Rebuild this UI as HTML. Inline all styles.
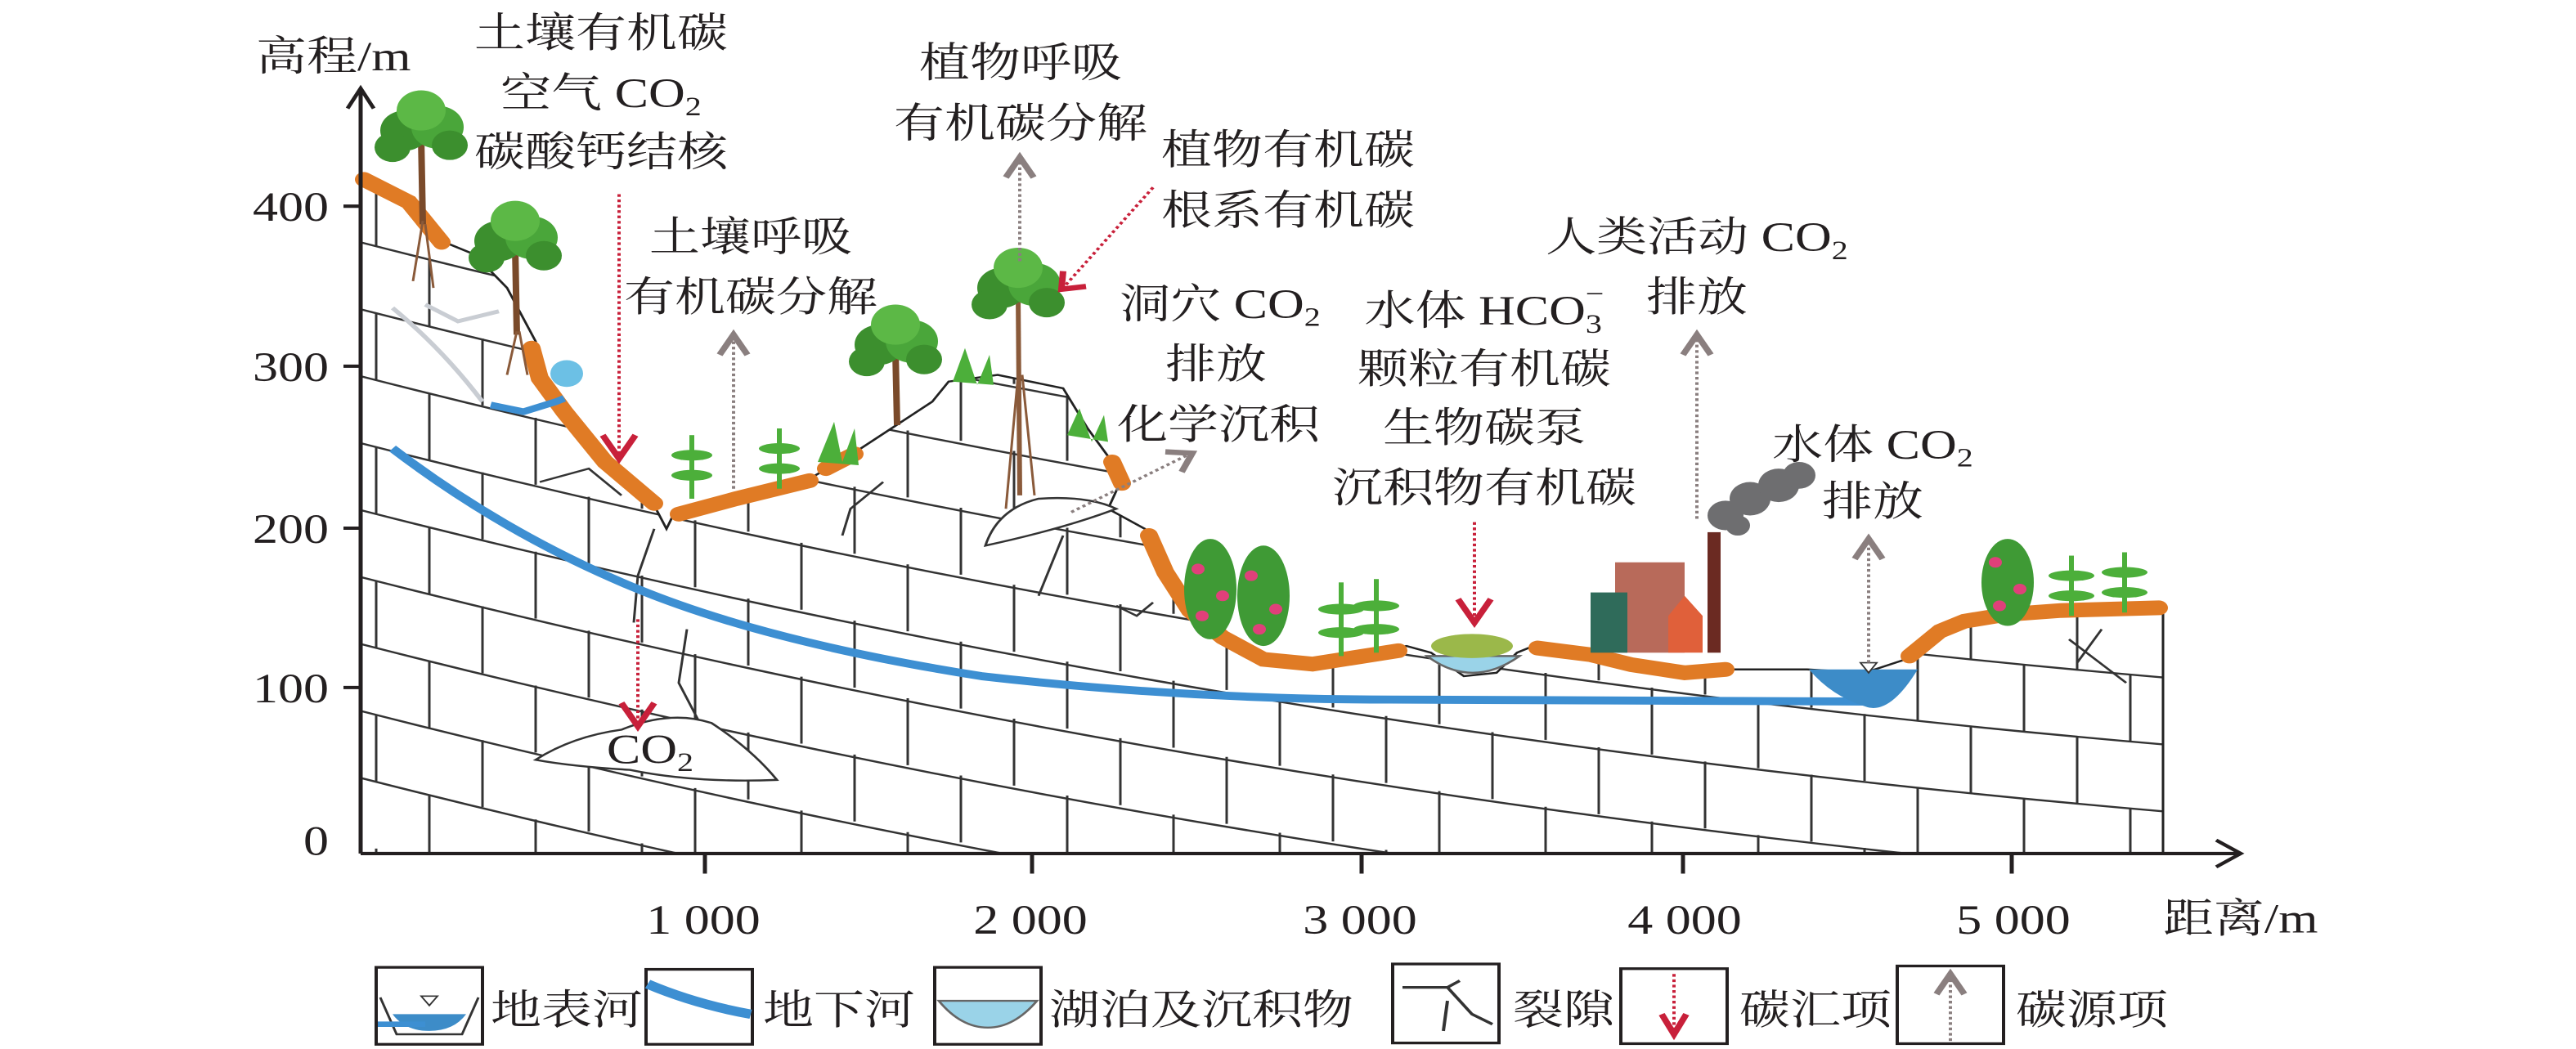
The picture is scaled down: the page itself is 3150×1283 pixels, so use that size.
<!DOCTYPE html>
<html><head><meta charset="utf-8"><style>
html,body{margin:0;padding:0;background:#fff;}
svg{display:block}
text{font-family:"Liberation Serif","Noto Serif CJK SC",serif;fill:#231f20}
</style></head><body>
<svg width="3150" height="1283" viewBox="0 0 3150 1567" preserveAspectRatio="none" xmlns="http://www.w3.org/2000/svg">
<defs>
<clipPath id="rock"><path d="M441,262 L470,275 500,300 540,360 580,380 620,430 655,510 660,560 680,600 700,640 740,690 800,755 815,790 825,765 900,740 990,715 1040,680 1090,640 1140,600 1160,570 1220,560 1300,580 1330,640 1360,690 1370,720 1355,760 1400,790 1420,850 1450,910 1490,950 1540,985 1605,990 1720,965 1750,975 1790,1010 1830,1005 1855,975 1875,965 1940,975 1990,990 2060,1005 2110,1000 2160,1000 2210,1000 2280,1005 2330,985 2370,945 2400,930 2450,920 2520,915 2600,910 2645,915 L2645,1275 L441,1275 Z"/></clipPath>
</defs>
<g clip-path="url(#rock)" stroke="#333" stroke-width="3" fill="none">
<path d="M441,-38 Q1500,292 2645,412"/>
<path d="M441,62 Q1500,392 2645,512"/>
<path d="M441,162 Q1500,492 2645,612"/>
<path d="M441,262 Q1500,592 2645,712"/>
<path d="M441,362 Q1500,692 2645,812"/>
<path d="M441,462 Q1500,792 2645,912"/>
<path d="M441,562 Q1500,892 2645,1012"/>
<path d="M441,662 Q1500,992 2645,1112"/>
<path d="M441,762 Q1500,1092 2645,1212"/>
<path d="M441,862 Q1500,1192 2645,1312"/>
<path d="M441,962 Q1500,1292 2645,1412"/>
<path d="M441,1062 Q1500,1392 2645,1512"/>
<path d="M441,1162 Q1500,1492 2645,1612"/>
<g stroke-dasharray="100 100">
<path d="M460,67.6V1600"/><path d="M590,105.6V1600"/><path d="M720,142.1V1600"/><path d="M850,177.2V1600"/><path d="M980,210.8V1600"/><path d="M1110,243V1600"/><path d="M1240,273.6V1600"/><path d="M1370,302.8V1600"/><path d="M1500,330.6V1600"/><path d="M1630,357V1600"/><path d="M1760,381.8V1600"/><path d="M1890,405.1V1600"/><path d="M2020,427.1V1600"/><path d="M2150,447.5V1600"/><path d="M2280,466.5V1600"/><path d="M2410,484.1V1600"/><path d="M2540,500.1V1600"/>
<path d="M525,-13.2V1600"/><path d="M655,24.1V1600"/><path d="M785,59.9V1600"/><path d="M915,94.2V1600"/><path d="M1045,127.1V1600"/><path d="M1175,158.5V1600"/><path d="M1305,188.4V1600"/><path d="M1435,216.9V1600"/><path d="M1565,243.9V1600"/><path d="M1695,269.6V1600"/><path d="M1825,293.7V1600"/><path d="M1955,316.3V1600"/><path d="M2085,337.5V1600"/><path d="M2215,357.2V1600"/><path d="M2345,375.5V1600"/><path d="M2475,392.3V1600"/><path d="M2605,407.6V1600"/>
</g>
</g>
<path d="M441,262 L470,275 500,300 540,360 580,380 620,430 655,510 660,560 680,600 700,640 740,690 800,755 815,790 825,765 900,740 990,715 1040,680 1090,640 1140,600 1160,570 1220,560 1300,580 1330,640 1360,690 1370,720 1355,760 1400,790 1420,850 1450,910 1490,950 1540,985 1605,990 1720,965 1750,975 1790,1010 1830,1005 1855,975 1875,965 1940,975 1990,990 2060,1005 2110,1000 2160,1000 2210,1000 2280,1005 2330,985 2370,945 2400,930 2450,920 2520,915 2600,910 2645,915 L2645,1275" fill="none" stroke="#222" stroke-width="3"/>
<path d="M441,262V1275" stroke="#222" stroke-width="3"/>
<!-- cracks / conduits -->
<g stroke="#333" stroke-width="3" fill="none">
<path d="M800,790 L780,860 775,930 M840,940 L830,1020 860,1090 M660,720 L720,700 760,740 M1080,720 L1040,760 1030,800 M1300,800 L1280,860 1270,890 M1365,905 L1390,920 1410,900 M2530,955 L2600,1020 M2540,990 L2570,940"/>
</g>
<path d="M480,460 Q540,520 590,600 M520,455 L560,480 610,465" stroke="#c9cdd3" stroke-width="6" fill="none"/>
<!-- orange soil -->
<g stroke="#e07b25" stroke-width="22" fill="none" stroke-linecap="round">
<path d="M445,268 L500,302 540,362"/>
<path d="M650,520 L660,565 690,615 740,690 800,752"/>
<path d="M830,768 L900,745 990,718"/>
<path d="M1010,700 L1045,678"/>
<path d="M1360,690 L1372,722 M1405,800 L1425,855 1455,912 1495,952 1545,985 1605,992 1710,972"/>
<path d="M1880,968 L1945,978 1995,993 2060,1005 2110,1000"/>
<path d="M2335,980 L2372,943 2402,928 2452,918 2520,912 2640,908"/>
</g>
<!-- underground river -->
<path d="M480,670 Q620,800 780,880 T1200,1010 Q1450,1045 1700,1045 L2290,1048" stroke="#3d8fd2" stroke-width="12" fill="none"/>
<!-- lake and surface river -->
<path d="M1745,980 Q1800,1030 1858,980 Z" fill="#9ad3e8" stroke="#666" stroke-width="3"/>
<path d="M2212,1000 L2345,1000 Q2310,1070 2280,1055 Q2240,1040 2212,1000Z" fill="#3d8cc8"/>
<path d="M2275,990 L2295,990 2285,1005Z" fill="#fff" stroke="#333" stroke-width="2"/>
<!-- caves -->
<path d="M655,1135 Q700,1100 760,1090 Q820,1060 870,1080 Q920,1120 950,1165 Q850,1170 770,1150 Q700,1145 655,1135Z" fill="#fff" stroke="#333" stroke-width="3"/>
<path d="M1205,815 Q1220,760 1270,745 Q1330,740 1365,760 Q1300,790 1205,815Z" fill="#fff" stroke="#333" stroke-width="3"/>
<path d="M600,605 L640,615 680,600 690,595" stroke="#3d8fd2" stroke-width="10" fill="none"/>
<circle cx="693" cy="558" r="20" fill="#6cc0e5"/>
<!-- trees -->
<g transform="translate(515,205)"><path d="M0,0 L2,130" stroke="#7a4a2a" stroke-width="8"/><circle cx="-20" cy="-10" r="30" fill="#3c8f2e"/><circle cx="20" cy="-15" r="32" fill="#4aa63a"/><circle cx="0" cy="-40" r="30" fill="#5cb846"/><circle cx="-35" cy="15" r="22" fill="#3c8f2e"/><circle cx="35" cy="12" r="22" fill="#3c8f2e"/></g>
<g transform="translate(630,370)"><path d="M0,0 L2,130" stroke="#7a4a2a" stroke-width="8"/><circle cx="-20" cy="-10" r="30" fill="#3c8f2e"/><circle cx="20" cy="-15" r="32" fill="#4aa63a"/><circle cx="0" cy="-40" r="30" fill="#5cb846"/><circle cx="-35" cy="15" r="22" fill="#3c8f2e"/><circle cx="35" cy="12" r="22" fill="#3c8f2e"/></g>
<g transform="translate(1095,525)"><path d="M0,0 L2,110" stroke="#7a4a2a" stroke-width="8"/><circle cx="-20" cy="-10" r="30" fill="#3c8f2e"/><circle cx="20" cy="-15" r="32" fill="#4aa63a"/><circle cx="0" cy="-40" r="30" fill="#5cb846"/><circle cx="-35" cy="15" r="22" fill="#3c8f2e"/><circle cx="35" cy="12" r="22" fill="#3c8f2e"/></g>
<g transform="translate(1245,440)"><path d="M0,0 L2,300" stroke="#8a5a3a" stroke-width="6"/><circle cx="-20" cy="-10" r="30" fill="#3c8f2e"/><circle cx="20" cy="-15" r="32" fill="#4aa63a"/><circle cx="0" cy="-40" r="30" fill="#5cb846"/><circle cx="-35" cy="15" r="22" fill="#3c8f2e"/><circle cx="35" cy="12" r="22" fill="#3c8f2e"/></g>
<g stroke="#8a5a3a" stroke-width="3" fill="none"><path d="M517,330 L505,420 M520,335 L530,430 M632,495 L620,560 M635,495 L645,560 M1245,560 L1230,760 M1250,560 L1265,740"/></g>
<!-- crops -->
<g fill="#4caf3a">
<rect x="843" y="650" width="6" height="95"/><ellipse cx="846" cy="680" rx="25" ry="8"/><ellipse cx="846" cy="710" rx="25" ry="8"/>
<rect x="950" y="640" width="6" height="90"/><ellipse cx="953" cy="670" rx="25" ry="8"/><ellipse cx="953" cy="700" rx="25" ry="8"/>
<path d="M1000,690 L1020,630 1030,690 1045,640 1050,695Z"/>
<path d="M1165,570 L1180,520 1195,575 1210,530 1215,575Z"/>
<path d="M1305,650 L1320,610 1335,660 1350,620 1355,660Z"/>
<rect x="1637" y="870" width="6" height="110"/><ellipse cx="1640" cy="910" rx="28" ry="8"/><ellipse cx="1640" cy="945" rx="28" ry="8"/>
<rect x="1680" y="865" width="6" height="110"/><ellipse cx="1683" cy="905" rx="28" ry="8"/><ellipse cx="1683" cy="940" rx="28" ry="8"/>
<rect x="2530" y="830" width="6" height="90"/><ellipse cx="2533" cy="860" rx="28" ry="8"/><ellipse cx="2533" cy="890" rx="28" ry="8"/>
<rect x="2595" y="825" width="6" height="90"/><ellipse cx="2598" cy="855" rx="28" ry="8"/><ellipse cx="2598" cy="885" rx="28" ry="8"/>
<ellipse cx="1480" cy="880" rx="32" ry="75" fill="#3f9a35"/><ellipse cx="1545" cy="890" rx="32" ry="75" fill="#3f9a35"/><ellipse cx="2455" cy="870" rx="32" ry="65" fill="#3f9a35"/>
<ellipse cx="1800" cy="965" rx="50" ry="18" fill="#9bb84a"/>
</g>
<g fill="#e0407a"><circle cx="1465" cy="850" r="8"/><circle cx="1495" cy="890" r="8"/><circle cx="1470" cy="920" r="8"/><circle cx="1530" cy="860" r="8"/><circle cx="1560" cy="910" r="8"/><circle cx="1540" cy="940" r="8"/><circle cx="2440" cy="840" r="8"/><circle cx="2470" cy="880" r="8"/><circle cx="2445" cy="905" r="8"/></g>
<!-- buildings -->
<rect x="1975" y="840" width="85" height="135" fill="#b86a5a"/>
<rect x="1945" y="885" width="45" height="90" fill="#2f6b5a"/>
<path d="M2040,975 L2040,920 2060,890 2082,920 2082,975Z" fill="#e0603a"/>
<rect x="2088" y="795" width="16" height="180" fill="#6b2a22"/>
<g fill="#6e6e70"><circle cx="2110" cy="770" r="22"/><circle cx="2140" cy="745" r="25"/><circle cx="2175" cy="725" r="25"/><circle cx="2200" cy="710" r="20"/><circle cx="2125" cy="785" r="15"/></g>
<!-- axes -->
<g stroke="#231f20" stroke-width="5" fill="none">
<path d="M441,1275 L441,135 M425,162 L441,132 457,162"/>
<path d="M441,1275 L2738,1275 M2710,1255 L2740,1275 2710,1295"/>
<path d="M420,308H441M420,547H441M420,789H441M420,1027H441"/>
<path d="M862,1275V1305M1262,1275V1305M1665,1275V1305M2058,1275V1305M2460,1275V1305"/>
</g>
<g font-size="62" text-anchor="end">
<text x="402" y="330">400</text><text x="402" y="569">300</text><text x="402" y="811">200</text><text x="402" y="1049">100</text><text x="402" y="1277">0</text>
</g>
<g font-size="62" text-anchor="middle">
<text x="860" y="1395">1 000</text><text x="1260" y="1395">2 000</text><text x="1663" y="1395">3 000</text><text x="2060" y="1395">4 000</text><text x="2462" y="1395">5 000</text>
</g>
<text x="2645" y="1393" font-size="62">距离/m</text>
<text x="313" y="105" font-size="62">高程/m</text>
<g font-size="62" text-anchor="middle">
<text x="735" y="70">土壤有机碳</text>
<text x="735" y="160">空气 CO<tspan font-size="40" dy="12">2</tspan></text>
<text x="735" y="248">碳酸钙结核</text>
<text x="1248" y="115">植物呼吸</text>
<text x="1248" y="205">有机碳分解</text>
<text x="918" y="375">土壤呼吸</text>
<text x="918" y="465">有机碳分解</text>
<text x="1492" y="475">洞穴 CO<tspan font-size="40" dy="12">2</tspan></text>
<text x="1487" y="565">排放</text>
<text x="1490" y="655">化学沉积</text>
<text x="1815" y="485">水体 HCO<tspan font-size="40" dy="12">3</tspan><tspan font-size="40" dy="-45" dx="-20">−</tspan></text>
<text x="1815" y="572">颗粒有机碳</text>
<text x="1815" y="660">生物碳泵</text>
<text x="1815" y="750">沉积物有机碳</text>
<text x="2075" y="375">人类活动 CO<tspan font-size="40" dy="12">2</tspan></text>
<text x="2075" y="465">排放</text>
<text x="2290" y="685">水体 CO<tspan font-size="40" dy="12">2</tspan></text>
<text x="2290" y="770">排放</text>
<text x="795" y="1140">CO<tspan font-size="40" dy="12">2</tspan></text>
</g>
<text x="1420" y="245" font-size="62">植物有机碳</text>
<text x="1420" y="335" font-size="62">根系有机碳</text>
<!-- arrows -->
<g stroke-width="4" fill="none" stroke-dasharray="4 4">
<path d="M757,290V680" stroke="#c8203a"/>
<path d="M780,925V1080" stroke="#c8203a"/>
<path d="M1803,780V925" stroke="#c8203a"/>
<path d="M1410,280L1300,430" stroke="#c8203a"/>
<path d="M897,730V505" stroke="#8a7f7f"/>
<path d="M1247,390V240" stroke="#8a7f7f"/>
<path d="M2075,775V505" stroke="#8a7f7f"/>
<path d="M2285,990V805" stroke="#8a7f7f"/>
<path d="M1310,765L1455,678" stroke="#8a7f7f"/>
</g>
<g stroke-width="8" fill="none">
<path d="M737,650L757,685 777,650M760,1050L780,1085 800,1050M1783,895L1803,930 1823,895M1300,405L1298,432 1328,428" stroke="#c8203a"/>
<path d="M880,530L897,500 914,530M1230,265L1247,235 1264,265M2058,530L2075,500 2092,530M2268,835L2285,805 2302,835M1425,675L1458,677 1445,705" stroke="#8a7f7f"/>
</g>
<!-- legend -->
<g stroke="#231f20" stroke-width="4" fill="#fff">
<rect x="460" y="1445" width="130" height="115"/><rect x="790" y="1448" width="130" height="112"/><rect x="1143" y="1445" width="130" height="115"/>
<rect x="1703" y="1440" width="130" height="118"/><rect x="1982" y="1447" width="130" height="112"/><rect x="2320" y="1443" width="130" height="116"/>
</g>
<path d="M480,1515 L570,1515 Q555,1540 525,1540 Q495,1540 480,1515Z" fill="#3d8cc8"/>
<path d="M465,1490 L485,1545 565,1545 585,1490" stroke="#333" stroke-width="3" fill="none"/>
<path d="M462,1530H520" stroke="#3d8fd2" stroke-width="8"/>
<path d="M515,1488H535L525,1502Z" fill="#fff" stroke="#333" stroke-width="2"/>
<path d="M792,1470Q850,1500 918,1515" stroke="#3d8fd2" stroke-width="14" fill="none"/>
<path d="M1148,1495H1268Q1240,1535 1208,1535Q1175,1535 1148,1495Z" fill="#9ad3e8" stroke="#666" stroke-width="3"/>
<path d="M1715,1475L1770,1475 1800,1515 1825,1530M1770,1475L1785,1465M1770,1495L1765,1540" stroke="#333" stroke-width="4" fill="none"/>
<path d="M2047,1455V1540" stroke="#c8203a" stroke-width="4" stroke-dasharray="4 4"/>
<path d="M2032,1515L2047,1545 2062,1515" stroke="#c8203a" stroke-width="8" fill="none"/>
<path d="M2385,1555V1460" stroke="#8a7f7f" stroke-width="4" stroke-dasharray="4 4"/>
<path d="M2368,1485L2385,1455 2402,1485" stroke="#8a7f7f" stroke-width="8" fill="none"/>
<g font-size="62">
<text x="600" y="1530">地表河</text><text x="933" y="1530">地下河</text><text x="1283" y="1530">湖泊及沉积物</text>
<text x="1850" y="1530">裂隙</text><text x="2127" y="1530">碳汇项</text><text x="2465" y="1530">碳源项</text>
</g>
</svg>
</body></html>
